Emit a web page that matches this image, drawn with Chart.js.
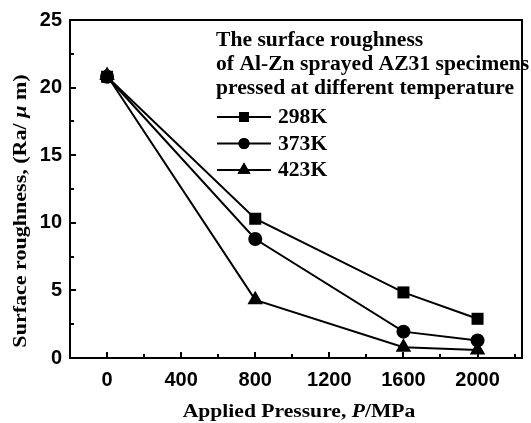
<!DOCTYPE html>
<html>
<head>
<meta charset="utf-8">
<script src="https://cdn.jsdelivr.net/npm/chart.js@4.4.1/dist/chart.umd.min.js"></script>
<style>
  html, body { margin: 0; padding: 0; background: #fff; }
  #wrap { width: 531px; height: 423px; }
</style>
</head>
<body>
<div id="wrap"><canvas id="c" width="531" height="423"></canvas></div>
<script>
// ---- data ----
const pressures = [0, 800, 1600, 2000];
const ra298 = [20.8, 10.3, 4.85, 2.9];
const ra373 = [20.8, 8.8, 1.95, 1.3];
const ra423 = [20.9, 4.3, 0.8, 0.6];
const seriesLabels = ['298K', '373K', '423K'];
const xTicks = [0, 400, 800, 1200, 1600, 2000];
const xMinorTicks = [200, 600, 1000, 1400, 1800, 2200];
const yTicks = [0, 5, 10, 15, 20, 25];
const yMinorTicks = [2.5, 7.5, 12.5, 17.5, 22.5];
const legendTitle = ['The surface roughness', 'of Al-Zn sprayed AZ31 specimens', 'pressed at different temperature'];

const toPts = arr => pressures.map((p, i) => ({ x: p, y: arr[i] }));
const markers = ['rect', 'circle', 'triangle'];
const markerRadius = [8.5, 7, 9];
const legendRadius = [7, 5.5, 7.5];
const seriesValues = [ra298, ra373, ra423];

const datasets = seriesValues.map((v, i) => ({
  label: seriesLabels[i],
  data: toPts(v),
  showLine: true,
  borderColor: '#000',
  backgroundColor: '#000',
  borderWidth: 2,
  pointStyle: markers[i],
  pointRadius: markerRadius[i],
  pointHoverRadius: markerRadius[i],
  pointBorderWidth: 0,
  tension: 0
}));

const serif = '"Liberation Serif", "Times New Roman", serif';
const sans = '"Liberation Sans", Arial, sans-serif';

// draw mixed-font text stretched along its direction by sx, centred or left aligned
function drawParts(ctx, parts, x, y, sx, align) {
  let total = 0;
  parts.forEach(p => { ctx.font = p[1]; total += ctx.measureText(p[0]).width; });
  ctx.save();
  ctx.translate(x, y);
  ctx.scale(sx, 1);
  let cx = align === 'center' ? -total / 2 : 0;
  parts.forEach(p => { ctx.font = p[1]; ctx.fillText(p[0], cx, 0); cx += ctx.measureText(p[0]).width; });
  ctx.restore();
}

const decor = {
  id: 'decor',
  afterDraw(chart) {
    const ctx = chart.ctx;
    const a = chart.chartArea;
    const xs = chart.scales.x, ys = chart.scales.y;
    ctx.save();
    ctx.strokeStyle = '#000';
    ctx.lineWidth = 2;
    ctx.strokeRect(a.left, a.top, a.right - a.left, a.bottom - a.top);
    ctx.beginPath();
    xTicks.forEach(t => { const px = Math.round(xs.getPixelForValue(t)); ctx.moveTo(px, a.bottom); ctx.lineTo(px, a.bottom - 6); });
    xMinorTicks.forEach(t => { const px = Math.round(xs.getPixelForValue(t)); ctx.moveTo(px, a.bottom); ctx.lineTo(px, a.bottom - 4); });
    yTicks.forEach(t => { const py = Math.round(ys.getPixelForValue(t)); ctx.moveTo(a.left, py); ctx.lineTo(a.left + 6, py); });
    yMinorTicks.forEach(t => { const py = Math.round(ys.getPixelForValue(t)); ctx.moveTo(a.left, py); ctx.lineTo(a.left + 4, py); });
    ctx.stroke();

    // legend
    ctx.fillStyle = '#000';
    ctx.textBaseline = 'middle';
    ctx.textAlign = 'left';
    const lf = 'bold 20px ' + serif;
    const lx = 216;
    legendTitle.forEach((t, i) => drawParts(ctx, [[t, lf]], lx, 41 + i * 24, 1.08, 'left'));
    seriesLabels.forEach((lab, i) => {
      const y = 117 + i * 26.5;
      ctx.beginPath();
      ctx.lineWidth = 2;
      ctx.moveTo(lx + 1, y); ctx.lineTo(lx + 55, y); ctx.stroke();
      Chart.helpers.drawPoint(ctx, { pointStyle: markers[i], radius: legendRadius[i], borderWidth: 0 }, lx + 28, y);
      ctx.fill();
      drawParts(ctx, [[lab, lf]], lx + 62, y + 1, 1.08, 'left');
    });

    // x title with italic P
    ctx.textBaseline = 'alphabetic';
    const xf = 'bold 18px ' + serif, xfi = 'italic bold 18px ' + serif;
    drawParts(ctx, [['Applied Pressure, ', xf], ['P', xfi], ['/MPa', xf]], (a.left + a.right) / 2 + 3, 417, 1.2, 'center');

    // y title, rotated
    ctx.save();
    ctx.translate(26, 211);
    ctx.rotate(-Math.PI / 2);
    const yf = 'bold 19px ' + serif, yfi = 'italic bold 19px ' + serif;
    drawParts(ctx, [['Surface roughness, (Ra/ ', yf], ['\u03bc', yfi], [' m)', yf]], 0, 0, 1.16, 'center');
    ctx.restore();
    ctx.restore();
  }
};

new Chart(document.getElementById('c'), {
  type: 'scatter',
  data: { datasets },
  options: {
    responsive: false,
    animation: false,
    devicePixelRatio: 1,
    layout: { padding: { top: 17, right: 4, left: 0, bottom: 0 } },
    plugins: { legend: { display: false }, tooltip: { enabled: false } },
    scales: {
      x: {
        type: 'linear', min: -200, max: 2240,
        grid: { display: false, drawTicks: false },
        border: { display: false },
        afterBuildTicks: s => { s.ticks = xTicks.map(v => ({ value: v })); },
        afterFit: s => { s.height = 65; },
        ticks: { color: '#000', font: { family: sans, size: 20, weight: 'bold' }, padding: 10, maxRotation: 0, callback: v => String(v) }
      },
      y: {
        type: 'linear', min: 0, max: 25,
        grid: { display: false, drawTicks: false },
        border: { display: false },
        afterBuildTicks: s => { s.ticks = yTicks.map(v => ({ value: v })); },
        afterFit: s => { s.width = 70; },
        ticks: { color: '#000', font: { family: sans, size: 20, weight: 'bold' }, padding: 8, callback: v => String(v) }
      }
    }
  },
  plugins: [decor]
});
</script>
</body>
</html>
